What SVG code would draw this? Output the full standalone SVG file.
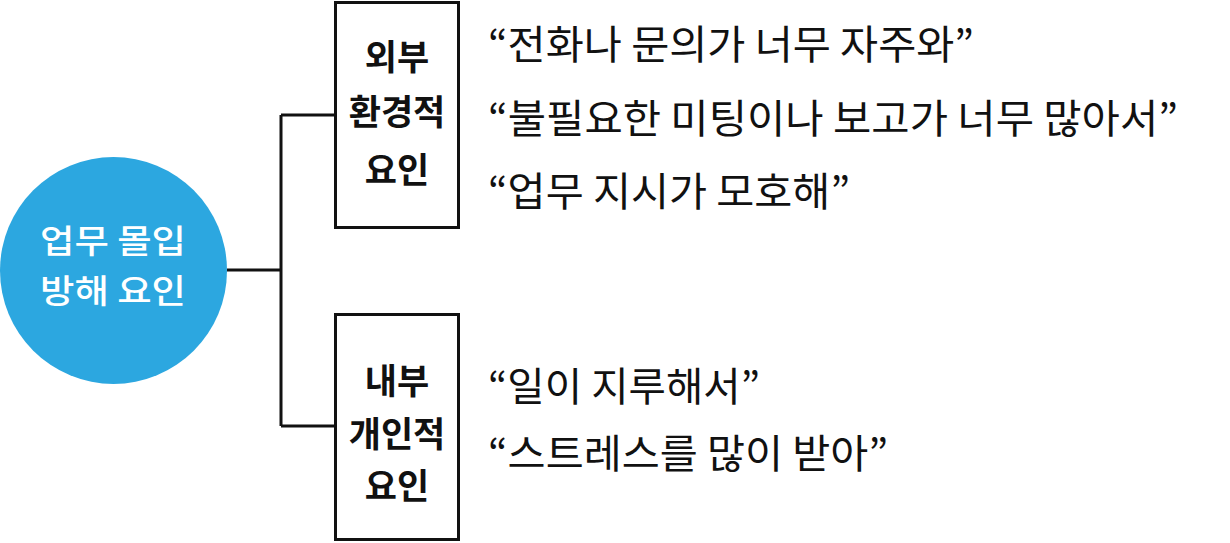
<svg xmlns="http://www.w3.org/2000/svg" width="1230" height="543" viewBox="0 0 1230 543">
<style>
.box{fill:#fff;stroke:#111;stroke-width:3}
.conn{fill:none;stroke:#111;stroke-width:3}
.hub{font-family:"Noto Sans CJK KR","Noto Sans",sans-serif;font-size:33px;font-weight:500;fill:#fff;text-anchor:middle}
.lbl{font-family:"Noto Sans CJK KR","Noto Sans",sans-serif;font-size:35px;font-weight:700;fill:#111;text-anchor:middle}
.q{font-family:"Noto Sans CJK KR","Noto Sans",sans-serif;font-size:40px;font-weight:400;fill:#111}
</style>
<rect width="1230" height="543" fill="#fff"/>
<g id="connectors">
<path class="conn" d="M227 270H281M281 115V426M281 115H335M281 426H335"/>
</g>
<g id="hub">
<circle cx="113.5" cy="270.5" r="113.5" fill="#2ca7e0"/>
<text class="hub" x="113" y="253" textLength="146" lengthAdjust="spacingAndGlyphs">업무 몰입</text>
<text class="hub" x="113" y="303" textLength="146" lengthAdjust="spacingAndGlyphs">방해 요인</text>
</g>
<g id="external">
<rect class="box" x="335.5" y="2.5" width="123" height="225"/>
<text class="lbl" x="397" y="70">외부</text>
<text class="lbl" x="397" y="125">환경적</text>
<text class="lbl" x="397" y="183">요인</text>
</g>
<g id="internal">
<rect class="box" x="335.5" y="314.5" width="123" height="225"/>
<text class="lbl" x="397" y="394">내부</text>
<text class="lbl" x="397" y="447">개인적</text>
<text class="lbl" x="397" y="499">요인</text>
</g>
<g id="quotes-external">
<text class="q" x="488" y="59" textLength="486" lengthAdjust="spacingAndGlyphs">“전화나 문의가 너무 자주와”</text>
<text class="q" x="488" y="133" textLength="690" lengthAdjust="spacingAndGlyphs">“불필요한 미팅이나 보고가 너무 많아서”</text>
<text class="q" x="488" y="206" textLength="362" lengthAdjust="spacingAndGlyphs">“업무 지시가 모호해”</text>
</g>
<g id="quotes-internal">
<text class="q" x="488" y="401" textLength="272" lengthAdjust="spacingAndGlyphs">“일이 지루해서”</text>
<text class="q" x="488" y="468" textLength="400" lengthAdjust="spacingAndGlyphs">“스트레스를 많이 받아”</text>
</g>
</svg>
